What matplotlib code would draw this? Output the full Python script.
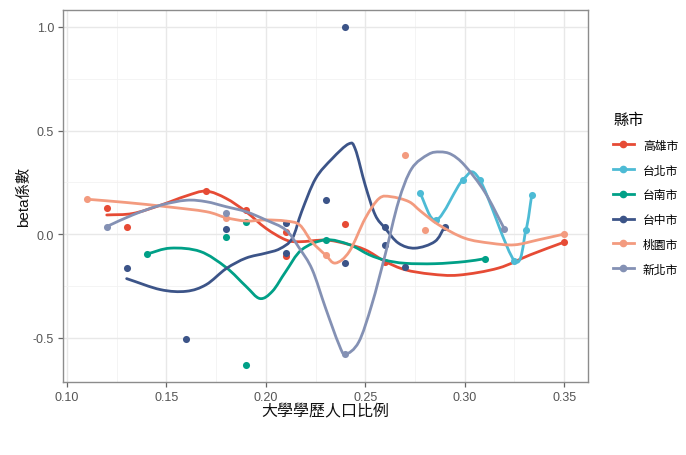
import numpy as np
import matplotlib
matplotlib.use('Agg')
import matplotlib.pyplot as plt
from matplotlib.path import Path
from matplotlib.patches import PathPatch
from matplotlib.lines import Line2D

plt.rcParams['font.family'] = ['Liberation Sans', 'Noto Sans CJK TC', 'DejaVu Sans']
plt.rcParams['axes.unicode_minus'] = False

# ---- data ---------------------------------------------------------------
cities = ['高雄市', '台北市', '台南市', '台中市', '桃園市', '新北市']
colors = ['#E64B35', '#4DBBD5', '#00A087', '#3C5488', '#F39B7F', '#8491B4']

# observed points (x = 大學學歷人口比例, y = beta係數)
kh_x = [0.12, 0.13, 0.17, 0.19, 0.21, 0.21, 0.24, 0.26, 0.35]
kh_y = [0.128, 0.034, 0.208, 0.115, 0.010, -0.107, 0.050, -0.134, -0.038]
tp_x = [0.2775, 0.2858, 0.2992, 0.3075, 0.325, 0.3308, 0.3337]
tp_y = [0.197, 0.069, 0.264, 0.264, -0.128, 0.021, 0.188]
tn_x = [0.14, 0.18, 0.19, 0.19, 0.23, 0.31]
tn_y = [-0.096, -0.013, 0.058, -0.631, -0.027, -0.118]
tc_x = [0.13, 0.16, 0.18, 0.21, 0.21, 0.23, 0.24, 0.24, 0.26, 0.26, 0.27, 0.29]
tc_y = [-0.163, -0.503, 0.026, 0.056, -0.090, 0.166, 1.000, -0.139, 0.037,
        -0.051, -0.160, 0.037]
ty_x = [0.11, 0.18, 0.23, 0.27, 0.28, 0.35]
ty_y = [0.169, 0.080, -0.100, 0.382, 0.021, 0.001]
nt_x = [0.12, 0.18, 0.24, 0.32]
nt_y = [0.037, 0.104, -0.578, 0.025]

# smoothed curve knots
kh_line_x = [0.12, 0.133, 0.147, 0.16, 0.17, 0.18, 0.19, 0.20, 0.21, 0.217,
             0.23, 0.24, 0.25, 0.26, 0.27, 0.283, 0.297, 0.317, 0.333, 0.35]
kh_line_y = [0.093, 0.100, 0.140, 0.185, 0.208, 0.173, 0.109, 0.029, -0.027,
             -0.036, -0.028, -0.045, -0.075, -0.131, -0.171, -0.192, -0.197,
             -0.163, -0.099, -0.038]
tp_line_x = tp_x
tp_line_y = tp_y
tn_line_x = [0.14, 0.152, 0.167, 0.18, 0.19, 0.197, 0.2033, 0.21, 0.218, 0.23,
             0.242, 0.252, 0.26, 0.27, 0.285, 0.30, 0.31]
tn_line_y = [-0.096, -0.067, -0.083, -0.160, -0.251, -0.310, -0.275, -0.180,
             -0.075, -0.027, -0.050, -0.099, -0.125, -0.140, -0.142, -0.132,
             -0.118]
tc_line_x = [0.13, 0.147, 0.16, 0.17, 0.18, 0.19, 0.20, 0.207, 0.2133, 0.218,
             0.225, 0.2333, 0.2417, 0.245, 0.25, 0.255, 0.26, 0.2667, 0.275,
             0.285, 0.29]
tc_line_y = [-0.214, -0.267, -0.275, -0.243, -0.166, -0.115, -0.091, -0.070,
             -0.020, 0.109, 0.268, 0.364, 0.436, 0.410, 0.236, 0.093, 0.029,
             -0.043, -0.067, -0.035, 0.037]
ty_line_x = [0.11, 0.13, 0.15, 0.17, 0.18, 0.19, 0.20, 0.21, 0.217, 0.223,
             0.23, 0.235, 0.242, 0.25, 0.257, 0.263, 0.272, 0.278, 0.287, 0.30,
             0.313, 0.325, 0.337, 0.35]
ty_line_y = [0.169, 0.153, 0.133, 0.109, 0.080, 0.064, 0.069, 0.064, 0.045,
             -0.035, -0.100, -0.139, -0.083, 0.077, 0.173, 0.181, 0.157, 0.110,
             0.045, -0.019, -0.043, -0.051, -0.027, 0.001]
nt_line_x = [0.12, 0.133, 0.147, 0.16, 0.17, 0.18, 0.19, 0.20, 0.21, 0.2167,
             0.2233, 0.23, 0.2367, 0.24, 0.2467, 0.2533, 0.26, 0.2667,
             0.2733, 0.2817, 0.2875, 0.2933, 0.30, 0.31, 0.32]
nt_line_y = [0.037, 0.093, 0.140, 0.164, 0.157, 0.133, 0.109, 0.069, 0.021,
             -0.065, -0.170, -0.355, -0.530, -0.578, -0.520, -0.339,
             -0.099, 0.157, 0.316, 0.385, 0.397, 0.385, 0.332, 0.205, 0.025]

points = [(kh_x, kh_y), (tp_x, tp_y), (tn_x, tn_y),
          (tc_x, tc_y), (ty_x, ty_y), (nt_x, nt_y)]
curves = [(kh_line_x, kh_line_y), (tp_line_x, tp_line_y),
          (tn_line_x, tn_line_y), (tc_line_x, tc_line_y),
          (ty_line_x, ty_line_y), (nt_line_x, nt_line_y)]


def smooth_path(xs, ys):
    """Catmull-Rom curve through the knots, as cubic Bezier segments."""
    pts = np.column_stack([xs, ys])
    pad = np.vstack([2 * pts[0] - pts[1], pts, 2 * pts[-1] - pts[-2]])
    verts = [pts[0]]
    codes = [Path.MOVETO]
    for i in range(len(pts) - 1):
        p0, p1, p2, p3 = pad[i:i + 4]
        verts += [p1 + (p2 - p0) / 6, p2 - (p3 - p1) / 6, p2]
        codes += [Path.CURVE4] * 3
    return Path(verts, codes)


fig = plt.figure(figsize=(6.86, 4.56), dpi=100)
ax = fig.add_axes([63 / 686, 73 / 456, 525 / 686, 372 / 456])

for i, (city, col) in enumerate(zip(cities, colors)):
    px, py = points[i]
    lx, ly = curves[i]
    ax.scatter(px, py, s=26, color=col, zorder=3 + i * 0.1, linewidths=0)
    ax.add_patch(PathPatch(smooth_path(lx, ly), fill=False, edgecolor=col,
                           lw=2.0, capstyle='round', joinstyle='round',
                           zorder=3 + i * 0.1))

# ggplot-style 5% expansion
all_x = np.concatenate([p[0] for p in points])
all_y = np.concatenate([p[1] for p in points])
xr = all_x.max() - all_x.min()
yr = all_y.max() - all_y.min()
ax.set_xlim(all_x.min() - 0.05 * xr, all_x.max() + 0.05 * xr)
ax.set_ylim(all_y.min() - 0.05 * yr, all_y.max() + 0.05 * yr)

ax.set_xticks(np.arange(0.10, 0.351, 0.05))
ax.set_xticklabels([f'{v:.2f}' for v in np.arange(0.10, 0.351, 0.05)])
ax.set_xticks(np.arange(0.125, 0.36, 0.05), minor=True)
ax.set_yticks([-0.5, 0.0, 0.5, 1.0])
ax.set_yticklabels(['-0.5', '0.0', '0.5', '1.0'])
ax.set_yticks([-0.25, 0.25, 0.75], minor=True)

ax.grid(which='major', color='#E8E8E8', lw=1.0)
ax.grid(which='minor', color='#F2F2F2', lw=0.6)
ax.set_axisbelow(True)
for sp in ax.spines.values():
    sp.set_color('#8C8C8C')
    sp.set_linewidth(1.0)
ax.tick_params(which='major', length=3.5, width=0.9, color='#666666',
               labelsize=9, labelcolor='#555555', pad=3)
ax.tick_params(which='minor', length=0)

ax.set_xlabel('大學學歷人口比例', fontsize=11.5, color='#111111')
ax.set_ylabel('beta係數', fontsize=11, color='#111111')
ax.xaxis.set_label_coords(0.5, -0.057)
ax.yaxis.set_label_coords(-0.06, 0.5)

handles = [Line2D([0], [0], color=c, lw=2.0, marker='o', ms=4.5)
           for c in colors]
leg = fig.legend(handles, cities, title='縣市', loc='upper left',
                 bbox_to_anchor=(604 / 686, 1 - 104 / 456), frameon=False,
                 fontsize=8.5, title_fontsize=11, handlelength=1.7,
                 handletextpad=0.8, labelspacing=1.08, borderpad=0.8,
                 borderaxespad=0)
leg._legend_box.align = 'left'

fig.savefig('out.png', dpi=100, facecolor='white')
